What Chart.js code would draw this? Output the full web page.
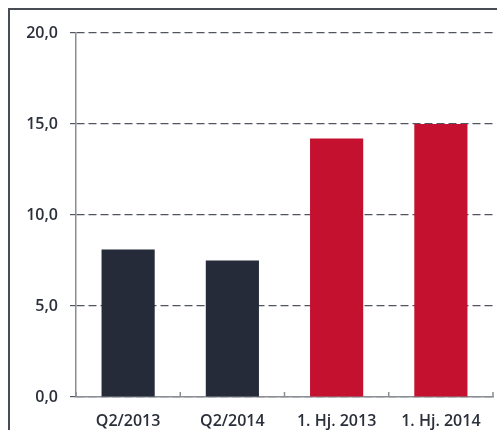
<!DOCTYPE html>
<html>
<head>
<meta charset="utf-8">
<script src="https://cdn.jsdelivr.net/npm/chart.js@4"></script>
<style>
	html, body { margin: 0; padding: 0; background: #fff; }
	#wrap { position: relative; width: 497px; height: 430px; overflow: hidden; }
	#frame { position: absolute; left: 8px; top: 8px; right: -4px; bottom: -4px; border-left: 2px solid #474c55; border-top: 2px solid #474c55; }
	#chart { position: absolute; left: 0; top: 0; }
</style>
</head>
<body>
<div id="wrap">
	<div id="frame"></div>
	<canvas id="chart" width="497" height="430"></canvas>
</div>
<script>
const categories = ["Q2/2013", "Q2/2014", "1. Hj. 2013", "1. Hj. 2014"];
const values = [8.1, 7.5, 14.2, 15.0];
const barColors = ["#252b38", "#252b38", "#c3112f", "#c3112f"];
const yMin = 0;
const yMax = 20;
const yStep = 5;

const font = { family: "'Open Sans', sans-serif", size: 16, weight: "600" };
const textColor = "#2a2f3a";

// small upward tick marks between categories on the x axis
const categoryTicks = {
	id: "categoryTicks",
	afterDatasetsDraw(chart) {
		const x = chart.scales.x;
		const ctx = chart.ctx;
		const bottom = chart.chartArea.bottom;
		ctx.save();
		ctx.strokeStyle = "#8a8d93";
		ctx.lineWidth = 1.5;
		for (let i = 0; i <= categories.length; i++) {
			const px = x.getPixelForValue(i - 0.5);
			ctx.beginPath();
			ctx.moveTo(px, bottom);
			ctx.lineTo(px, bottom - 5);
			ctx.stroke();
		}
		ctx.restore();
	}
};

new Chart(document.getElementById("chart"), {
	type: "bar",
	data: {
		labels: categories,
		datasets: [{
			data: values,
			backgroundColor: barColors,
			barPercentage: 0.51,
			categoryPercentage: 1
		}]
	},
	plugins: [categoryTicks],
	options: {
		responsive: false,
		animation: false,
		layout: { padding: { top: 33, right: 4, left: 0, bottom: 0 } },
		plugins: { legend: { display: false }, tooltip: { enabled: false } },
		scales: {
			x: {
				offset: true,
				grid: { display: false },
				border: { display: true, color: "#8a8d93", width: 1.5 },
				ticks: { color: textColor, font: font, padding: 7, maxRotation: 0 },
				afterFit: function (s) { s.height = 33; }
			},
			y: {
				min: yMin,
				max: yMax,
				ticks: {
					stepSize: yStep,
					color: textColor,
					font: font,
					padding: 12,
					callback: function (v) { return v.toFixed(1).replace(".", ","); }
				},
				grid: { color: "#50555f", lineWidth: 1.2, tickLength: 6 },
				border: { display: true, color: "#8a8d93", width: 1.5, dash: [8, 4] },
				afterFit: function (s) { s.width = 76; }
			}
		}
	}
});
</script>
</body>
</html>
